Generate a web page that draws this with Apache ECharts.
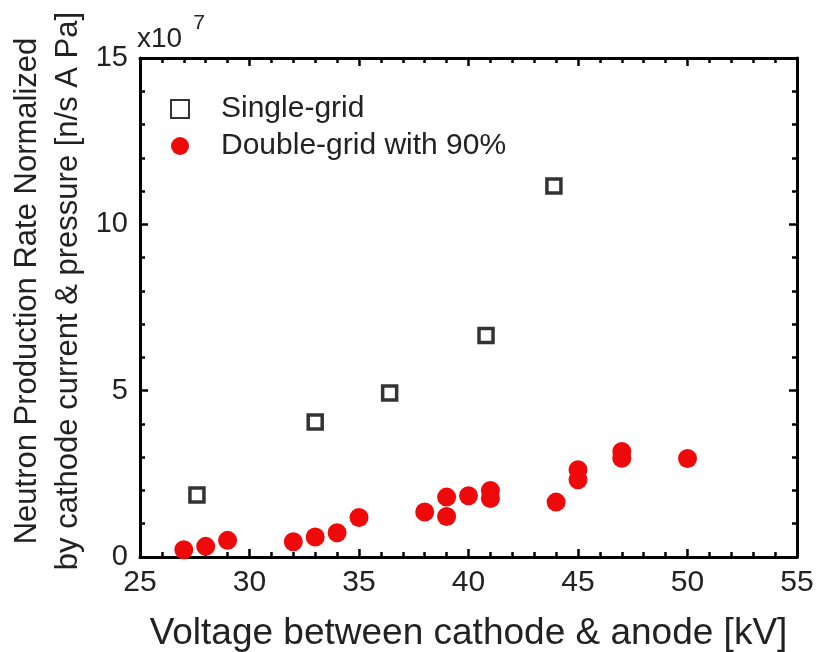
<!DOCTYPE html>
<html>
<head>
<meta charset="utf-8">
<script src="https://cdn.jsdelivr.net/npm/echarts@6/dist/echarts.min.js"></script>
<style>
  html, body { margin: 0; padding: 0; background: #fff; }
  #chart { width: 818px; height: 652px; }
</style>
</head>
<body>
<div id="chart"></div>
<script>
  // values in units of 1e7 n/s A Pa
  var singleX = [27.6, 33.0, 36.4, 40.8, 43.9];
  var singleY = [1.86, 4.06, 4.93, 6.66, 11.15];

  var doubleX = [27, 28, 29, 32, 33, 34, 35, 38, 39, 39, 40, 41, 41, 44, 45, 45, 47, 47, 50];
  var doubleY = [0.22, 0.32, 0.50, 0.46, 0.60, 0.73, 1.19, 1.35, 1.22, 1.80, 1.84, 2.00, 1.76, 1.65, 2.62, 2.32, 3.17, 2.97, 2.96];

  var xTicks = [25, 30, 35, 40, 45, 50, 55];
  var yTicks = [0, 5, 10, 15];

  function pairs(xs, ys) {
    return xs.map(function (x, i) { return [x, ys[i]]; });
  }

  var font = 'Liberation Sans, Arial, sans-serif';

  var chart = echarts.init(document.getElementById('chart'));

  var axisBase = {
    axisLine: { show: true, onZero: false, lineStyle: { color: '#000', width: 3 } },
    axisTick: { show: true, inside: true, length: 8, lineStyle: { color: '#000', width: 2.5 } },
    minorTick: { show: true, splitNumber: 5, length: 5, lineStyle: { color: '#000', width: 2.5 } },
    splitLine: { show: false }
  };

  var option = {
    backgroundColor: '#fff',
    animation: false,
    grid: { left: 140, right: 21, top: 58, bottom: 95, outerBoundsMode: 'none', containLabel: false },
    legend: {
      orient: 'vertical',
      left: 165,
      top: 89,
      itemWidth: 18,
      itemHeight: 18,
      itemGap: 7,
      textStyle: { fontFamily: font, fontSize: 30, color: '#222', padding: [0, 0, 0, 27] },
      data: ['Single-grid', 'Double-grid with 90%']
    },
    xAxis: [
      Object.assign({}, axisBase, {
        type: 'value', min: 25, max: 55, interval: 5,
        name: 'Voltage between cathode & anode [kV]',
        nameLocation: 'middle', nameGap: 58,
        nameTextStyle: { fontFamily: font, fontSize: 37, color: '#222' },
        axisLabel: { fontFamily: font, fontSize: 30, color: '#222', margin: 11,
          formatter: function (v) { return xTicks.indexOf(v) >= 0 ? String(v) : ''; } }
      }),
      Object.assign({}, axisBase, {
        type: 'value', min: 25, max: 55, interval: 5, position: 'top',
        axisLabel: { show: false }
      })
    ],
    yAxis: [
      Object.assign({}, axisBase, {
        type: 'value', min: 0, max: 15, interval: 5,
        axisLabel: { fontFamily: font, fontSize: 29, color: '#222', margin: 12,
          formatter: function (v) { return yTicks.indexOf(v) >= 0 ? String(v) : ''; } }
      }),
      Object.assign({}, axisBase, {
        type: 'value', min: 0, max: 15, interval: 5, position: 'right',
        axisLabel: { show: false }
      })
    ],
    graphic: [
      {
        type: 'text', x: 48, y: 291, rotation: Math.PI / 2,
        style: {
          text: 'Neutron Production Rate Normalized\nby cathode current & pressure [n/s A Pa]',
          fontFamily: font, fontSize: 31, fill: '#222', lineHeight: 41,
          align: 'center', verticalAlign: 'middle'
        }
      },
      {
        type: 'text', left: 137, top: 13,
        style: {
          text: '{a|x10}{b|7}',
          rich: {
            a: { fontFamily: font, fontSize: 28, fill: '#222', padding: [18, 0, 0, 0] },
            b: { fontFamily: font, fontSize: 21, fill: '#222', padding: [0, 0, 14, 11] }
          }
        }
      }
    ],
    series: [
      {
        name: 'Single-grid',
        type: 'scatter',
        symbol: 'rect',
        symbolSize: 14,
        itemStyle: { color: '#fff', borderColor: '#000', borderWidth: 3.5 },
        data: pairs(singleX, singleY),
        z: 3
      },
      {
        name: 'Double-grid with 90%',
        type: 'scatter',
        symbol: 'circle',
        symbolSize: 19,
        itemStyle: { color: '#ee0a0a', opacity: 1 },
        data: pairs(doubleX, doubleY),
        z: 2
      }
    ]
  };

  chart.setOption(option);
</script>
</body>
</html>
